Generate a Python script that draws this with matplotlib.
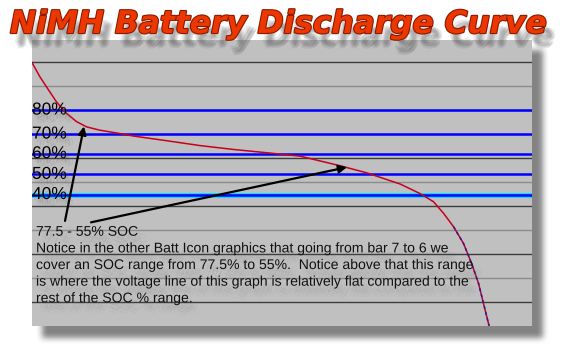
import matplotlib
matplotlib.use('Agg')
import matplotlib.pyplot as plt
import matplotlib.patheffects as pe
import numpy as np

# discharge curve (x = % of run time, y = cell voltage)
run_pct = [0.0, 1.6, 3.3, 4.9, 6.9, 8.9, 10.9, 13.6, 17.6, 20.2, 27.0, 33.6,
           40.2, 47.0, 53.6, 61.6, 67.0, 73.6, 77.6, 80.3, 82.3, 84.3, 86.3,
           87.9, 89.3, 90.3, 91.4]
volts = [1.549, 1.519, 1.492, 1.467, 1.443, 1.426, 1.415, 1.408, 1.401, 1.396,
         1.386, 1.376, 1.368, 1.361, 1.354, 1.334, 1.319, 1.296, 1.276, 1.259,
         1.235, 1.207, 1.172, 1.131, 1.089, 1.047, 1.001]

# SOC marker lines
soc_labels = ['80%', '70%', '60%', '50%', '40%']
soc_volts = [1.450, 1.400, 1.359, 1.316, 1.274]

grid_dark = [1.05, 1.15, 1.25, 1.35, 1.45, 1.55]
grid_light = [1.10, 1.20, 1.30, 1.40, 1.50]

W, H = 566, 346
fig = plt.figure(figsize=(W / 100, H / 100), dpi=100)
fig.patch.set_facecolor('white')


def blur(a, r):
    k = np.ones(2 * r + 1) / (2 * r + 1)
    a = np.apply_along_axis(lambda m: np.convolve(m, k, mode='same'), 0, a)
    a = np.apply_along_axis(lambda m: np.convolve(m, k, mode='same'), 1, a)
    return a


def soft_shadow(offsets, grey, a):
    return [pe.SimplePatchShadow(offset=o, shadow_rgbFace=grey, alpha=a) for o in offsets]


# drop shadow behind the panel
alpha = np.zeros((H, W))
alpha[50:338, 42:543] = 1.0
alpha = blur(blur(alpha, 3), 3) * 0.75
rgba = np.zeros((H, W, 4))
rgba[..., :3] = 0.35
rgba[..., 3] = alpha
bg = fig.add_axes([0, 0, 1, 1], zorder=0)
bg.imshow(rgba, extent=[0, W, H, 0], interpolation='bilinear')
bg.set_xlim(0, W)
bg.set_ylim(H, 0)
bg.axis('off')

ax = fig.add_axes([32 / W, 20 / H, 500 / W, 286 / H], zorder=1)
ax.set_facecolor('#c0c0c0')
ax.set_xlim(0, 100)
ax.set_ylim(1.0, 1.596)
for s in ax.spines.values():
    s.set_visible(False)
ax.set_xticks([])
ax.set_yticks([])

for v in grid_dark:
    ax.axhline(v, color='#3c3c3c', lw=1.0, zorder=1)
for v in grid_light:
    ax.axhline(v, color='#8c8c8c', lw=1.0, zorder=1)

ax.axhline(soc_volts[-1], color='#00e0ff', lw=3.5, zorder=2)
for v in soc_volts:
    ax.axhline(v, color='#0000ff', lw=1.8, zorder=3)

ax.plot(run_pct, volts, color='#c8001e', lw=1.1, zorder=4)
ax.plot(run_pct[-6:], volts[-6:], color='#2020a0', lw=1.1, ls=(0, (2, 2)), zorder=5)

lab_fx = soft_shadow([(1, -3), (3, -4), (5, -5), (3, -6), (2, -2)], '0.4', 0.09) + [pe.Normal()]
for lab, v in zip(soc_labels, soc_volts):
    ax.text(0, v, lab, fontsize=12.5, family='Liberation Sans', color='black',
            ha='left', va='center', zorder=6, path_effects=lab_fx)

# arrows
ax.annotate('', xy=(10.4, 1.416), xytext=(6.6, 1.219),
            arrowprops=dict(arrowstyle='-|>', color='black', lw=1.6,
                            mutation_scale=12, shrinkA=0, shrinkB=0), zorder=7)
ax.annotate('', xy=(63.0, 1.331), xytext=(11.8, 1.216),
            arrowprops=dict(arrowstyle='-|>', color='black', lw=1.6,
                            mutation_scale=12, shrinkA=0, shrinkB=0), zorder=7)

note = ("77.5 - 55% SOC\n"
        "Notice in the other Batt Icon graphics that going from bar 7 to 6 we\n"
        "cover an SOC range from 77.5% to 55%.  Notice above that this range\n"
        "is where the voltage line of this graph is relatively flat compared to the\n"
        "rest of the SOC % range.")
txt_fx = soft_shadow([(2, -4), (4, -5), (6, -6), (3, -7), (5, -8), (7, -5)], '0.45', 0.05) + [pe.Normal()]
ax.text(0.8, 1.211, note, fontsize=10.1, family='Liberation Sans', color='#101010',
        ha='left', va='top', linespacing=1.24, zorder=6, path_effects=txt_fx)

# title
title_fx = soft_shadow([(3, -7), (5, -8), (4, -9), (6, -10), (5, -11), (7, -9)], '0.35', 0.12)
title_fx += [pe.Stroke(linewidth=1.6, foreground='#8a1a00'), pe.Normal()]
fig.text(10 / W, 1 - 33 / H, 'NiMH Battery Discharge Curve', fontsize=22.5,
         family='DejaVu Sans', weight='bold', style='italic', color='#ec3800',
         ha='left', va='baseline', zorder=10, path_effects=title_fx)

fig.savefig('out.png', dpi=100)
